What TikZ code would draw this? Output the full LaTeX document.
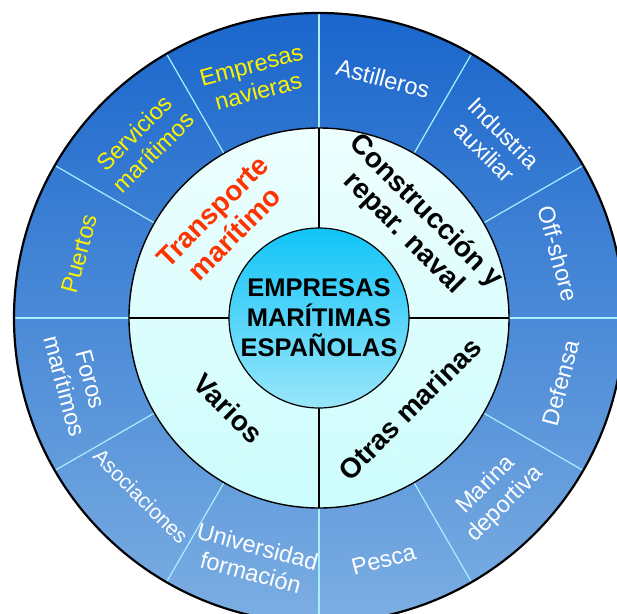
\documentclass[tikz,border=0pt]{standalone}
\usepackage{fontspec}
\setmainfont{Liberation Sans}

\definecolor{ringtop}{HTML}{1A66CC}
\definecolor{ringbot}{HTML}{7CAEE2}
\definecolor{bandtop}{HTML}{EEFEFE}
\definecolor{bandbot}{HTML}{CCFCFC}
\definecolor{coretop}{HTML}{10C4F8}
\definecolor{corebot}{HTML}{9AE6FA}
\definecolor{spoke}{HTML}{A8F0FF}
\definecolor{labelred}{HTML}{FF3300}

\tikzset{
  sector/.style={align=center, inner sep=0pt, font=\fontsize{23.5}{27}\selectfont},
  branch/.style={align=center, inner sep=0pt, font=\bfseries\fontsize{28}{31}\selectfont},
  spokeline/.style={spoke, line width=1.2pt}
}

\begin{document}
\begin{tikzpicture}[x=1pt,y=1pt]
  \useasboundingbox (-319,-295) rectangle (298,318);
  \coordinate (O) at (0,0);

  % outer ring and middle band
  \shade[top color=ringtop, bottom color=ringbot] (O) circle (305);
  \shade[top color=bandtop, bottom color=bandbot] (O) circle (190);

  \foreach \a in {0,30,...,330}
    \draw[spokeline] (\a:190) -- (\a:305);
  \foreach \a in {30,60,120,150,210,240,300,330}
    \draw[spoke!30, line width=0.8pt] (\a:90) -- (\a:190);
  \foreach \a in {0,90,180,270}
    \draw[line width=1.2pt] (\a:90) -- (\a:190);

  \draw[line width=1.4pt] (O) circle (190);
  \draw[line width=2.2pt] (O) circle (305);

  \node[circle, draw, line width=1.2pt, minimum size=180pt, inner sep=0pt,
        top color=coretop, bottom color=corebot, align=center,
        font=\bfseries\fontsize{25.5}{30}\selectfont] (core) at (O)
        {EMPRESAS\\MARÍTIMAS\\ESPAÑOLAS};

  % sectors, upper half
  \foreach \a/\txt/\c [count=\i] in {105/{Empresas\\navieras}/yellow,
      135/{Servicios\\marítimos}/yellow, 165/Puertos/yellow,
      75/Astilleros/white, 45/{Industria\\auxiliar}/white, 15/Off-shore/white}
    \node[sector, text=\c, rotate=\a-90] (up-\i) at (\a:248) {\txt};

  % sectors, lower half
  \foreach \a/\txt [count=\i] in {345/Defensa, 315/{Marina\\deportiva},
      285/Pesca, 255/{Universidad\\formación}, 195/{Foros\\marítimos}}
    \node[sector, text=white, rotate=\a+90] (low-\i) at (\a:250) {\txt};
  \node[sector, text=white, rotate=-45, font=\fontsize{21}{24}\selectfont]
    (asociaciones) at (225:252) {Asociaciones};

  % branches
  \node[branch, text=labelred, rotate=45] (transporte) at (135:135) {Transporte\\marítimo};
  \node[branch, rotate=-45] (construccion) at (45:135) {Construcción y\\repar. naval};
  \node[branch, rotate=45] (otras) at (315:128) {Otras marinas};
  \node[branch, rotate=-45] (varios) at (225:128) {Varios};
\end{tikzpicture}
\end{document}
